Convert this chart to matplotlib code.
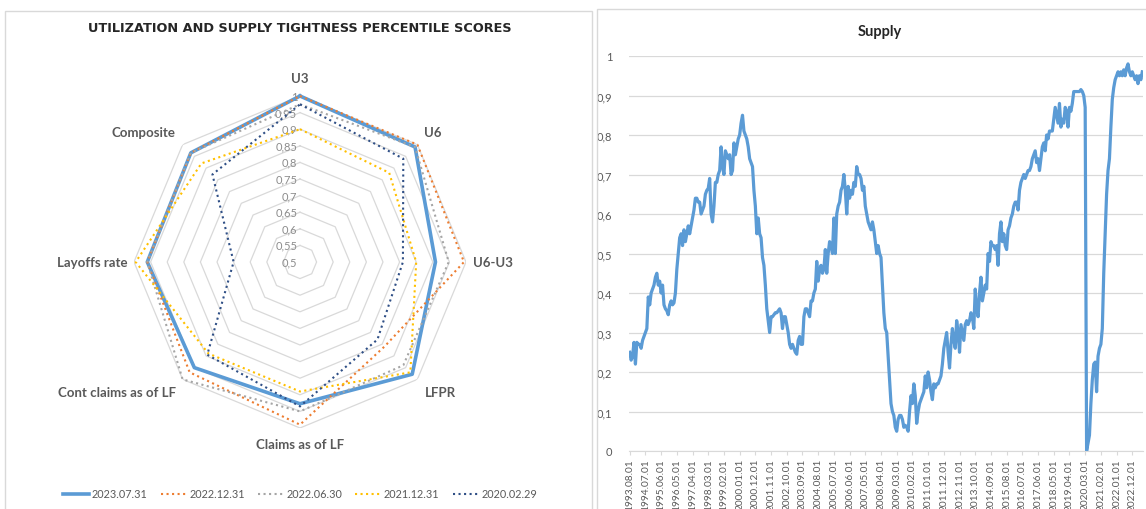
import numpy as np
import pandas as pd
import matplotlib
matplotlib.use("Agg")
import matplotlib.pyplot as plt
from matplotlib.patches import Rectangle

plt.rcParams['font.family'] = ['Lato', 'DejaVu Sans']

# radar: percentile scores per indicator
categories = ['U3', 'U6', 'U6-U3', 'LFPR', 'Claims as of LF',
              'Cont claims as of LF', 'Layoffs rate', 'Composite']
s_2023_07 = [1.00, 0.99, 0.908, 0.978, 0.927, 0.95, 0.96, 0.965]
s_2022_12 = [1.00, 1.00, 0.994, 0.86, 0.99, 0.97, 0.96, 0.965]
s_2022_06 = [0.975, 0.99, 0.948, 0.94, 0.95, 1.00, 0.96, 0.965]
s_2021_12 = [0.90, 0.88, 0.85, 0.97, 0.89, 0.89, 0.995, 0.92]
s_2020_02 = [0.975, 0.94, 0.81, 0.83, 0.935, 0.895, 0.70, 0.873]
series_labels = ['2023.07.31', '2022.12.31', '2022.06.30', '2021.12.31', '2020.02.29']
ring_values = [0.5, 0.55, 0.6, 0.65, 0.7, 0.75, 0.8, 0.85, 0.9, 0.95, 1.0]

# monthly supply score, 1993.08 .. 2023.07
supply = [
    0.25, 0.23, 0.24, 0.275, 0.22, 0.275, 0.27, 0.27, 0.26, 0.28, 0.29, 0.30,
    0.31, 0.39, 0.37, 0.40, 0.41, 0.42, 0.44, 0.45, 0.42, 0.43, 0.40, 0.42,
    0.37, 0.36, 0.355, 0.345, 0.37, 0.38, 0.37, 0.375, 0.40, 0.46, 0.50, 0.54,
    0.55, 0.52, 0.56, 0.53, 0.55, 0.57, 0.55, 0.57, 0.59, 0.61, 0.64, 0.64,
    0.63, 0.63, 0.60, 0.61, 0.62, 0.65, 0.66, 0.665, 0.69, 0.60, 0.58, 0.62,
    0.68, 0.68, 0.70, 0.71, 0.77, 0.72, 0.70, 0.76, 0.75, 0.74, 0.75, 0.70,
    0.71, 0.78, 0.75, 0.77, 0.79, 0.80, 0.83, 0.85, 0.81, 0.80, 0.79, 0.77,
    0.74, 0.73, 0.72, 0.66, 0.62, 0.55, 0.59, 0.55, 0.54, 0.49, 0.47, 0.42,
    0.36, 0.33, 0.30, 0.34, 0.34, 0.345, 0.35, 0.35, 0.355, 0.36, 0.35, 0.31,
    0.34, 0.34, 0.32, 0.30, 0.27, 0.26, 0.27, 0.26, 0.25, 0.245, 0.28, 0.29,
    0.27, 0.27, 0.34, 0.36, 0.36, 0.35, 0.34, 0.38, 0.38, 0.40, 0.41, 0.48,
    0.43, 0.46, 0.47, 0.45, 0.46, 0.51, 0.45, 0.50, 0.53, 0.52, 0.50, 0.59,
    0.50, 0.60, 0.62, 0.63, 0.66, 0.67, 0.70, 0.66, 0.60, 0.67, 0.64, 0.66,
    0.65, 0.68, 0.67, 0.72, 0.70, 0.70, 0.69, 0.66, 0.67, 0.62, 0.60, 0.58,
    0.57, 0.56, 0.58, 0.56, 0.53, 0.50, 0.52, 0.50, 0.49, 0.42, 0.35, 0.31,
    0.30, 0.24, 0.18, 0.12, 0.10, 0.09, 0.06, 0.05, 0.08, 0.09, 0.09, 0.08,
    0.06, 0.065, 0.06, 0.05, 0.10, 0.14, 0.12, 0.17, 0.14, 0.07, 0.10, 0.12,
    0.13, 0.14, 0.15, 0.19, 0.16, 0.20, 0.18, 0.15, 0.13, 0.17, 0.16, 0.17,
    0.17, 0.18, 0.19, 0.22, 0.26, 0.28, 0.30, 0.25, 0.21, 0.27, 0.31, 0.28,
    0.26, 0.33, 0.30, 0.25, 0.32, 0.30, 0.28, 0.32, 0.33, 0.32, 0.33, 0.35,
    0.34, 0.31, 0.41, 0.36, 0.34, 0.40, 0.44, 0.38, 0.40, 0.42, 0.41, 0.50,
    0.48, 0.53, 0.52, 0.52, 0.51, 0.52, 0.47, 0.55, 0.58, 0.53, 0.55, 0.52,
    0.51, 0.56, 0.57, 0.59, 0.60, 0.62, 0.63, 0.63, 0.61, 0.66, 0.68, 0.69,
    0.70, 0.69, 0.70, 0.71, 0.71, 0.72, 0.74, 0.75, 0.76, 0.73, 0.74, 0.71,
    0.74, 0.77, 0.78, 0.76, 0.80, 0.79, 0.81, 0.81, 0.81, 0.84, 0.87, 0.85,
    0.83, 0.88, 0.82, 0.84, 0.83, 0.87, 0.86, 0.82, 0.87, 0.86, 0.88, 0.91,
    0.91, 0.91, 0.91, 0.91, 0.915, 0.91, 0.90, 0.87, 0.00, 0.02, 0.04, 0.12,
    0.18, 0.22, 0.225, 0.15, 0.24, 0.26, 0.27, 0.31, 0.45, 0.55, 0.65, 0.71,
    0.74, 0.82, 0.89, 0.92, 0.94, 0.95, 0.96, 0.95, 0.96, 0.95, 0.965, 0.95,
    0.97, 0.98, 0.96, 0.95, 0.96, 0.95, 0.94, 0.95, 0.93, 0.95, 0.94, 0.96,
]
supply_yticks = [0, 0.1, 0.2, 0.3, 0.4, 0.5, 0.6, 0.7, 0.8, 0.9, 1.0]

W, H = 1146, 510
fig = plt.figure(figsize=(W / 100, H / 100), dpi=100)
fig.patch.set_facecolor('white')

# chart area frames
fig.patches.append(Rectangle((5 / W, -0.01), 587 / W, 1 - 12 / H + 0.01, transform=fig.transFigure,
                             fill=False, edgecolor='#d9d9d9', lw=1))
fig.patches.append(Rectangle((597 / W, -0.01), 1 - 597 / W + 0.01, 1 - 10 / H + 0.01,
                             transform=fig.transFigure, fill=False, edgecolor='#d9d9d9', lw=1))

txt_gray = '#595959'

# ---- radar ----
fig.text(300 / W, 1 - 29 / H, 'UTILIZATION AND SUPPLY TIGHTNESS PERCENTILE SCORES',
         ha='center', va='center', fontsize=9.3, fontweight='bold', color='#262626',
         family='DejaVu Sans')

R = 166
cx, cy = 300, 263
ax = fig.add_axes([(cx - R) / W, (H - cy - R) / H, 2 * R / W, 2 * R / H], projection='polar')
ax.set_theta_zero_location('N')
ax.set_theta_direction(-1)
ax.set_ylim(0.5, 1.0)
ax.grid(False)
ax.set_xticks([])
ax.set_yticks([])
ax.spines['polar'].set_visible(False)
ax.patch.set_alpha(0)

n = len(categories)
angles = np.arange(n) * 2 * np.pi / n
closed = np.append(angles, angles[0])

for rv in ring_values[1:]:
    ax.plot(closed, [rv] * (n + 1), color='#d9d9d9', lw=0.9, zorder=1)
for rv in ring_values:
    ax.annotate(('%g' % rv).replace('.', ','), xy=(0, rv), xytext=(-2, 0),
                textcoords='offset points', ha='right', va='center',
                fontsize=8, color='#8c8c8c', zorder=2)

styles = [
    (s_2023_07, '#5b9bd5', '-', 2.6),
    (s_2022_12, '#ed7d31', ':', 1.5),
    (s_2022_06, '#a5a5a5', ':', 1.5),
    (s_2021_12, '#ffc000', ':', 1.5),
    (s_2020_02, '#2f4f86', ':', 1.5),
]
handles = []
for (vals, col, ls, lw), lab in zip(styles, series_labels):
    h, = ax.plot(closed, np.append(vals, vals[0]), color=col, ls=ls, lw=lw,
                 label=lab, zorder=3, clip_on=False)
    handles.append(h)

label_pos = [
    (1.035, 'center', 'bottom'),
    (1.03, 'left', 'bottom'),
    (1.02, 'left', 'center'),
    (1.03, 'left', 'top'),
    (1.03, 'center', 'top'),
    (1.03, 'right', 'top'),
    (1.02, 'right', 'center'),
    (1.03, 'right', 'bottom'),
]
for a, cat, (rr, ha, va) in zip(angles, categories, label_pos):
    ax.text(a, rr, cat, ha=ha, va=va, fontsize=9.5, fontweight='bold', color=txt_gray)

fig.legend(handles=handles, loc='center', bbox_to_anchor=(300 / W, 1 - 495 / H), ncol=5,
           frameon=False, fontsize=7.8, handlelength=2.4, columnspacing=1.2, handletextpad=0.25,
           labelcolor=txt_gray)

# ---- supply line ----
x0, x1 = 629, 1143
ax2 = fig.add_axes([x0 / W, (H - 452) / H, (x1 - x0) / W, 395 / H])
months = np.arange(len(supply))
ax2.plot(months, supply, color='#5b9bd5', lw=2.3, solid_joinstyle='round')
ax2.set_xlim(-0.5, len(supply) - 0.5)
ax2.set_ylim(0, 1)
ax2.set_yticks(supply_yticks)
ax2.set_yticklabels([('%g' % v).replace('.', ',') for v in supply_yticks])
ax2.yaxis.grid(True, color='#d9d9d9', lw=0.9)
ax2.set_axisbelow(True)
for s in ['top', 'right', 'left']:
    ax2.spines[s].set_visible(False)
ax2.spines['bottom'].set_color('#d9d9d9')
dates = pd.date_range('1993-08-01', periods=len(supply), freq='MS').strftime('%Y.%m.%d')
tick_idx = list(range(0, len(supply), 11))
ax2.set_xticks(tick_idx)
ax2.set_xticklabels([dates[i] for i in tick_idx], rotation=90, fontsize=7.3, color=txt_gray)
ax2.tick_params(axis='x', length=3, color='#d9d9d9', pad=2)
ax2.tick_params(axis='y', length=0, pad=12, labelsize=8, labelcolor=txt_gray)
fig.text(880 / W, 1 - 32 / H, 'Supply', ha='center', va='center', fontsize=10.5,
         fontweight='bold', color='#262626')

fig.savefig('out.png', dpi=100, facecolor='white')
